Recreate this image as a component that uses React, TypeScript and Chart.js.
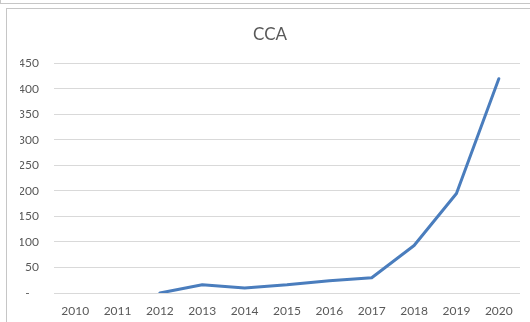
import React, { useEffect, useRef } from "react";
import { Chart, registerables } from "chart.js";

Chart.register(...registerables);

const years: string[] = ["2010", "2011", "2012", "2013", "2014", "2015", "2016", "2017", "2018", "2019", "2020"];
const ccaValues: (number | null)[] = [null, null, 0, 16, 10, 16, 24, 30, 93, 195, 420];
const yMin = 0;
const yMax = 450;
const yStep = 50;
const chartTitle = "CCA";

const textColor = "#595959";
const gridColor = "#d9d9d9";
const lineColor = "#4a7dbd";
const fontFamily = "Lato, 'Liberation Sans', sans-serif";

export default function App() {
  const ref = useRef<HTMLCanvasElement>(null);

  useEffect(() => {
    document.body.style.margin = "0";
    const chart = new Chart(ref.current as HTMLCanvasElement, {
      type: "line",
      data: {
        labels: years,
        datasets: [
          {
            label: chartTitle,
            data: ccaValues,
            borderColor: lineColor,
            backgroundColor: lineColor,
            borderWidth: 3,
            pointRadius: 0,
            tension: 0,
            borderCapStyle: "round",
            borderJoinStyle: "round",
            fill: false,
          },
        ],
      },
      options: {
        responsive: false,
        animation: false,
        layout: { padding: { left: 20, right: 10, top: 0, bottom: 0 } },
        plugins: {
          legend: { display: false },
          tooltip: { enabled: false },
          title: {
            display: true,
            text: chartTitle,
            color: textColor,
            font: { family: fontFamily, size: 17, weight: "normal" },
            padding: { top: 24, bottom: 19 },
          },
        },
        scales: {
          x: {
            offset: true,
            grid: { display: false, drawTicks: false },
            border: { display: false },
            ticks: {
              color: textColor,
              font: { family: fontFamily, size: 12 },
              padding: 11,
              maxRotation: 0,
              autoSkip: false,
            },
            afterFit: (s: any) => {
              s.height = 29;
            },
          },
          y: {
            min: yMin,
            max: yMax,
            grid: { color: gridColor, drawTicks: false, lineWidth: 1 },
            border: { display: false },
            ticks: {
              stepSize: yStep,
              color: textColor,
              font: { family: fontFamily, size: 12 },
              padding: 15,
              callback: (v: any) => (Number(v) === 0 ? "-   " : String(v)),
            },
            afterFit: (s: any) => {
              s.width = 34;
            },
          },
        },
      },
    });
    return () => chart.destroy();
  }, []);

  return (
    <div
      style={{
        position: "fixed",
        left: 0,
        top: 0,
        width: 530,
        height: 322,
        background: "#fff",
        overflow: "hidden",
      }}
    >
      <div
        style={{
          position: "absolute",
          left: 0,
          top: 0,
          width: 540,
          height: 3,
          borderLeft: "1px solid #c6c6c6",
          borderBottom: "1px solid #c6c6c6",
        }}
      />
      <div
        style={{
          position: "absolute",
          left: 6,
          top: 8,
          width: 600,
          height: 400,
          border: "1px solid #c6c6c6",
        }}
      />
      <canvas
        ref={ref}
        width={530}
        height={322}
        style={{ position: "absolute", left: 0, top: 0, width: 530, height: 322 }}
      />
    </div>
  );
}
